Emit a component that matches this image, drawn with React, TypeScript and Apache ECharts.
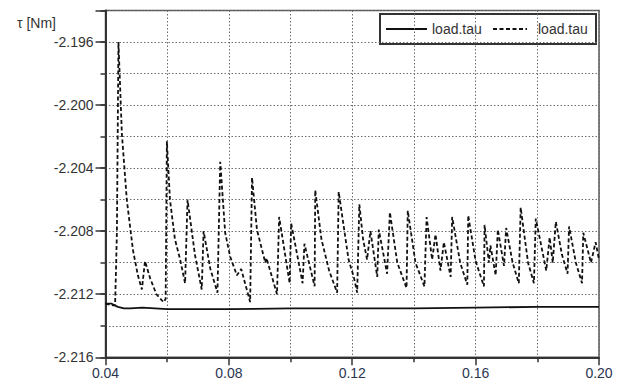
import React, { useEffect, useRef } from "react";
import * as echarts from "echarts";

// Solid series (load.tau)
const solidX = [0.04, 0.042, 0.044, 0.046, 0.048, 0.052, 0.056, 0.06, 0.08, 0.1, 0.12, 0.14, 0.16, 0.18, 0.2];
const solidY = [-2.2126, -2.2126, -2.2128, -2.2129, -2.2129, -2.21285, -2.2129, -2.21295, -2.21295, -2.2129, -2.2129, -2.2129, -2.21285, -2.2128, -2.2128];

// Dashed series (load.tau)
const dashedX = [
  0.04, 0.0425, 0.0431, 0.0434, 0.0437, 0.0442, 0.0453, 0.0469, 0.0489, 0.0505, 0.0518, 0.0528, 0.0545, 0.0565, 0.0588,
  0.0595, 0.0599, 0.0609, 0.0625, 0.0642, 0.0658, 0.0666, 0.069, 0.0712, 0.0718, 0.074, 0.0763, 0.0772, 0.0788, 0.0804,
  0.0826, 0.084, 0.0869, 0.0875, 0.0891, 0.0918, 0.0922, 0.0956, 0.0963, 0.0997, 0.1002, 0.1039, 0.1045, 0.1078, 0.108,
  0.11, 0.1125, 0.1151, 0.1156, 0.1188, 0.1205, 0.1216, 0.1223, 0.1235, 0.1248, 0.1259, 0.1281, 0.1286, 0.1313, 0.1322,
  0.1346, 0.1376, 0.138, 0.1405, 0.1434, 0.1441, 0.1459, 0.147, 0.1486, 0.1497, 0.1519, 0.1524, 0.155, 0.1573, 0.1576,
  0.16, 0.1627, 0.1629, 0.1643, 0.1648, 0.1665, 0.1672, 0.1692, 0.1699, 0.172, 0.174, 0.1746, 0.177, 0.1789, 0.1795,
  0.1829, 0.184, 0.185, 0.186, 0.188, 0.1898, 0.1903, 0.1925, 0.1945, 0.1949, 0.1974, 0.1989, 0.2,
];
const dashedY = [
  -2.2126, -2.2127, -2.2127, -2.2105, -2.208, -2.196, -2.2018, -2.206, -2.2092, -2.2108, -2.2117, -2.2099, -2.211, -2.212, -2.2125,
  -2.2123, -2.2023, -2.206, -2.2085, -2.2098, -2.2113, -2.206, -2.2095, -2.2117, -2.208, -2.2104, -2.2119, -2.2036, -2.2081, -2.2096,
  -2.2108, -2.2104, -2.2125, -2.2046, -2.2079, -2.21, -2.2097, -2.212, -2.2071, -2.2113, -2.2075, -2.2113, -2.2088, -2.2115, -2.2054,
  -2.2085, -2.2105, -2.2119, -2.2055, -2.2098, -2.2109, -2.2119, -2.2063, -2.2085, -2.2098, -2.208, -2.2109, -2.2079, -2.2107, -2.2068,
  -2.21, -2.2116, -2.2067, -2.21, -2.2115, -2.2071, -2.2098, -2.2082, -2.2105, -2.2087, -2.2109, -2.2071, -2.21, -2.2114, -2.207,
  -2.2099, -2.2115, -2.2076, -2.21, -2.2089, -2.2108, -2.2079, -2.2102, -2.2078, -2.21, -2.2113, -2.2065, -2.21, -2.2113, -2.2072,
  -2.2105, -2.2084, -2.21, -2.2074, -2.2095, -2.2107, -2.2077, -2.21, -2.2113, -2.2081, -2.21, -2.2087, -2.2098,
];

const legendLabels = ["load.tau", "load.tau"];

const xMin = 0.04;
const xMax = 0.2;
const yMin = -2.216;
const yMax = -2.194;

const FONT = "'Liberation Sans', Arial, sans-serif";
const DASH = [4, 2.5];
const gridLine = { show: true, lineStyle: { color: "#6e6e6e", width: 1, type: [1.5, 2] as any } };

export default function App() {
  const ref = useRef<HTMLDivElement>(null);
  useEffect(() => {
    if (!ref.current) return;
    const chart = echarts.init(ref.current, undefined, { renderer: "svg" });
    const solid = solidX.map((x, i) => [x, solidY[i]]);
    const dashed = dashedX.map((x, i) => [x, dashedY[i]]);
    chart.setOption({
      animation: false,
      backgroundColor: "#fff",
      textStyle: { fontFamily: FONT },
      grid: {
        left: 105.5,
        right: 19,
        top: 10.5,
        bottom: 25.7,
        show: true,
        borderColor: "#555",
        borderWidth: 1.5,
        outerBoundsMode: "none",
      },
      graphic: [
        {
          type: "text",
          left: 17,
          top: 16,
          style: { text: "τ [Nm]", fontSize: 14, fill: "#333", fontFamily: FONT },
        },
        {
          type: "group",
          right: 21,
          top: 13,
          children: [
            {
              type: "rect",
              shape: { x: 0, y: 0, width: 216, height: 30 },
              style: { fill: "rgba(255,255,255,0)", stroke: "#333", lineWidth: 2 },
            },
            {
              type: "line",
              shape: { x1: 6, y1: 15, x2: 47, y2: 15 },
              style: { stroke: "#111", lineWidth: 1.8 },
            },
            {
              type: "text",
              x: 52,
              y: 15,
              style: { text: legendLabels[0], fontSize: 14, fill: "#333", fontFamily: FONT, verticalAlign: "middle" },
            },
            {
              type: "line",
              shape: { x1: 113, y1: 15, x2: 147, y2: 15 },
              style: { stroke: "#111", lineWidth: 1.8, lineDash: DASH },
            },
            {
              type: "text",
              x: 158,
              y: 15,
              style: { text: legendLabels[1], fontSize: 14, fill: "#333", fontFamily: FONT, verticalAlign: "middle" },
            },
          ],
        },
      ],
      xAxis: {
        type: "value",
        min: xMin,
        max: xMax,
        interval: 0.04,
        axisLine: { show: true, lineStyle: { color: "#333", width: 2 } },
        axisTick: { show: true, length: 8, lineStyle: { color: "#333", width: 1.5 } },
        minorTick: { show: true, splitNumber: 2, length: 5, lineStyle: { color: "#333", width: 1.5 } },
        splitLine: gridLine,
        minorSplitLine: gridLine,
        axisLabel: {
          margin: 9,
          fontSize: 14,
          color: "#2b3550",
          fontFamily: FONT,
          formatter: (v: number) => v.toFixed(2),
        },
      },
      yAxis: [
        {
          type: "value",
          min: yMin,
          max: yMax,
          interval: 0.002,
          axisLine: { show: true, lineStyle: { color: "#333", width: 2 } },
          axisTick: { show: true, length: 5, lineStyle: { color: "#333", width: 1.5 } },
          splitLine: gridLine,
          axisLabel: {
            margin: 12,
            fontSize: 14,
            color: "#333",
            fontFamily: FONT,
            formatter: (v: number) => {
              const k = Math.round((v - yMin) / 0.002);
              return k % 2 === 0 ? v.toFixed(3) : "";
            },
          },
        },
        {
          type: "value",
          min: yMin,
          max: yMax,
          interval: 0.004,
          position: "left",
          axisLine: { show: false },
          axisTick: { show: true, length: 10, lineStyle: { color: "#333", width: 1.5 } },
          splitLine: { show: false },
          axisLabel: { show: false },
        },
      ],
      series: [
        {
          name: "load.tau (solid)",
          type: "line",
          data: solid,
          symbol: "none",
          showSymbol: false,
          lineStyle: { color: "#111", width: 1.8, type: "solid" },
          z: 3,
        },
        {
          name: "load.tau (dashed)",
          type: "line",
          data: dashed,
          symbol: "none",
          showSymbol: false,
          lineStyle: { color: "#111", width: 1.8, type: DASH },
          z: 4,
        },
      ],
    });
    return () => chart.dispose();
  }, []);
  return (
    <div
      ref={ref}
      style={{ position: "fixed", left: 0, top: 0, width: 618, height: 383 }}
    />
  );
}
